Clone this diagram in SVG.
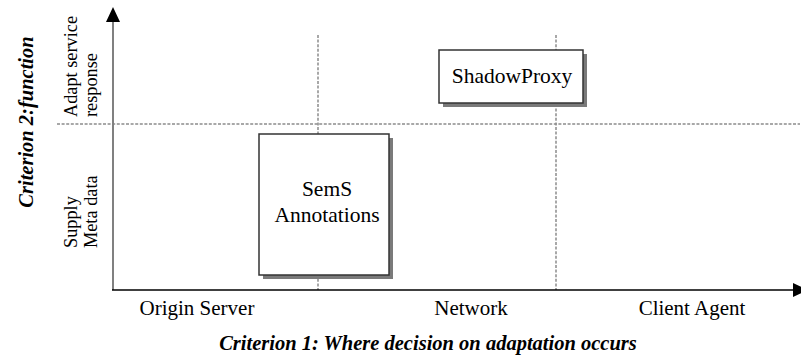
<svg xmlns="http://www.w3.org/2000/svg" width="801" height="361" viewBox="0 0 801 361">
  <style>
    text { font-family: 'Liberation Serif', 'Times New Roman', Times, serif; fill: #000; }
    .lbl { font-size: 21.5px; }
    .axl { font-size: 21px; }
    .side { font-size: 18.3px; }
    .crit { font-size: 20.5px; font-weight: bold; font-style: italic; }
    .grid { stroke: #8c8c8c; stroke-width: 1.5; stroke-dasharray: 3 1.6; fill: none; }
    .box { fill: #fff; stroke: #333; stroke-width: 1.5; }
    .shadow { fill: #7a7a7a; }
  </style>
  <rect width="801" height="361" fill="#fff"/>

  <g id="connectors">
    <!-- quadrant divisions -->
    <line class="grid" x1="57" y1="124" x2="800" y2="124"/>
    <line class="grid" x1="318" y1="35" x2="318" y2="290"/>
    <line class="grid" x1="556" y1="35" x2="556" y2="290"/>
    <!-- axes -->
    <line x1="113" y1="290" x2="113" y2="20" stroke="#808080" stroke-width="2"/>
    <path d="M113,7 L120,22 L106,22 Z" fill="#000"/>
    <line x1="112" y1="290" x2="794" y2="290" stroke="#000" stroke-width="1.5"/>
    <path d="M808,290 L793,283 L793,297 Z" fill="#000"/>
  </g>

  <g id="sems-annotations">
    <rect class="shadow" x="263" y="138" width="130" height="141"/>
    <rect class="box" x="259" y="134" width="130" height="141"/>
    <text class="lbl" x="327" y="196" text-anchor="middle">SemS</text>
    <text class="lbl" x="327" y="222" text-anchor="middle">Annotations</text>
  </g>

  <g id="shadowproxy">
    <rect class="shadow" x="443" y="54" width="144" height="53"/>
    <rect class="box" x="439" y="50" width="144" height="53"/>
    <text class="lbl" x="512" y="83" text-anchor="middle">ShadowProxy</text>
  </g>

  <g id="x-labels">
    <text class="axl" x="197" y="315" text-anchor="middle">Origin Server</text>
    <text class="axl" x="471" y="315" text-anchor="middle">Network</text>
    <text class="axl" x="692" y="315" text-anchor="middle">Client Agent</text>
    <text class="crit" x="428" y="350" text-anchor="middle">Criterion 1: Where decision on adaptation occurs</text>
  </g>

  <g id="y-labels">
    <text class="crit" transform="translate(33,122) rotate(-90)" text-anchor="middle">Criterion  2:function</text>
    <text class="side" transform="translate(77,117) rotate(-90)">Adapt service</text>
    <text class="side" transform="translate(97,117) rotate(-90)">response</text>
    <text class="side" transform="translate(77,248) rotate(-90)">Supply</text>
    <text class="side" transform="translate(97,248) rotate(-90)">Meta data</text>
  </g>
</svg>
